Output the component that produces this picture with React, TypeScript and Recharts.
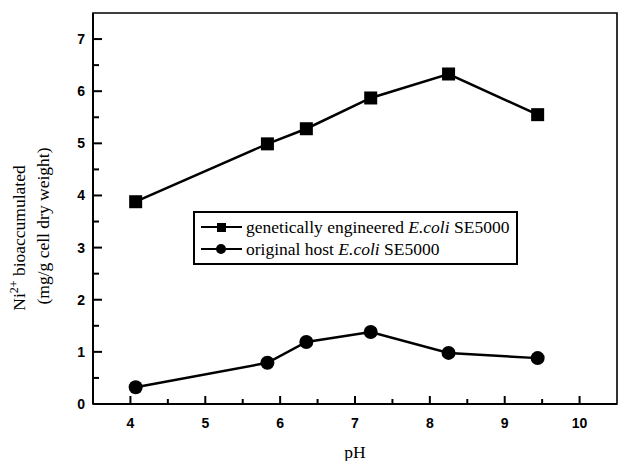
import { LineChart, Line, XAxis, YAxis, ReferenceArea, Legend } from 'recharts'

const phValues = [4.07, 5.83, 6.35, 7.21, 8.25, 9.44]
const engineered = [3.88, 4.99, 5.28, 5.87, 6.33, 5.55]
const original = [0.32, 0.79, 1.19, 1.38, 0.98, 0.88]

const xTicks = [4, 4.5, 5, 5.5, 6, 6.5, 7, 7.5, 8, 8.5, 9, 9.5, 10]
const yTicks = [0, 0.5, 1, 1.5, 2, 2.5, 3, 3.5, 4, 4.5, 5, 5.5, 6, 6.5, 7]

const seriesNames = ['genetically engineered', 'original host']
const strain = 'SE5000'

const data = phValues.map((ph, i) => ({ ph, eng: engineered[i], orig: original[i] }))

const serif = '"Liberation Serif", "Times New Roman", serif'
const sans = '"Liberation Sans", Arial, sans-serif'

const XTick = (props: any) => {
    const { x, y, payload } = props
    const major = Number.isInteger(payload.value)
    return (
        <g>
            <line x1={x} x2={x} y1={y} y2={y - (major ? 8 : 5)} stroke="#000" strokeWidth={2} />
            {major && (
                <text x={x} y={y + 24} textAnchor="middle" fontFamily={sans} fontWeight="bold" fontSize={14} fill="#000">
                    {payload.value}
                </text>
            )}
        </g>
    )
}

const YTick = (props: any) => {
    const { x, y, payload } = props
    const major = Number.isInteger(payload.value)
    return (
        <g>
            <line x1={x} x2={x + (major ? 9 : 6)} y1={y} y2={y} stroke="#000" strokeWidth={2} />
            {major && (
                <text x={x - 8} y={y + 5} textAnchor="end" fontFamily={sans} fontWeight="bold" fontSize={14} fill="#000">
                    {payload.value}
                </text>
            )}
        </g>
    )
}

const Square = (props: any) => {
    const { cx, cy, index } = props
    return <rect key={`s${index}`} x={cx - 6.5} y={cy - 6.5} width={13} height={13} fill="#000" />
}

const Dot = (props: any) => {
    const { cx, cy, index } = props
    return <circle key={`c${index}`} cx={cx} cy={cy} r={7} fill="#000" />
}

const LegendBox = () => (
    <div
        style={{
            border: '2px solid #000',
            background: '#fff',
            padding: '3px 7px 3px 4px',
            fontFamily: serif,
            fontSize: 17.5,
            lineHeight: '22px',
            color: '#000',
            whiteSpace: 'nowrap'
        }}
    >
        {seriesNames.map((name, i) => (
            <div key={name} style={{ display: 'flex', alignItems: 'center' }}>
                <svg width={45} height={14} style={{ marginRight: 2 }}>
                    <line x1={2} x2={43} y1={7} y2={7} stroke="#000" strokeWidth={2} />
                    {i === 0 ? <rect x={18} y={3} width={9} height={9} fill="#000" /> : <circle cx={22} cy={7} r={5} fill="#000" />}
                </svg>
                <span>
                    {name} <i>E.coli</i> {strain}
                </span>
            </div>
        ))}
    </div>
)

export default function App() {
    return (
        <div style={{ position: 'absolute', left: 0, top: 0, width: 618, height: 461, background: '#fff' }}>
            <LineChart width={618} height={461} data={data} margin={{ top: 13, right: 1, bottom: 0, left: 0 }}>
                <XAxis
                    dataKey="ph"
                    type="number"
                    domain={[3.5, 10.5]}
                    ticks={xTicks}
                    interval={0}
                    height={57}
                    tickSize={0}
                    tickMargin={0}
                    tickLine={false}
                    axisLine={{ stroke: '#000', strokeWidth: 2 }}
                    tick={XTick}
                    label={{ value: 'pH', position: 'insideBottom', offset: 3, fontFamily: serif, fontSize: 17.5, fill: '#000' }}
                />
                <YAxis
                    type="number"
                    domain={[0, 7.5]}
                    ticks={yTicks}
                    interval={0}
                    width={93}
                    tickSize={0}
                    tickMargin={0}
                    tickLine={false}
                    axisLine={{ stroke: '#000', strokeWidth: 2 }}
                    tick={YTick}
                    label={{
                        content: () => (
                            <g fontFamily={serif} fontSize={17.5} fill="#000">
                                <text x={25} y={238} textAnchor="middle" transform="rotate(-90 25 238)">
                                    Ni
                                    <tspan fontSize={12} dy={-7}>2+</tspan>
                                    <tspan dy={7}> bioaccumulated</tspan>
                                </text>
                                <text x={49} y={226} textAnchor="middle" transform="rotate(-90 49 226)">
                                    (mg/g cell dry weight)
                                </text>
                            </g>
                        )
                    }}
                />
                <ReferenceArea x1={3.5} x2={10.5} y1={0} y2={7.5} fill="none" stroke="#000" strokeWidth={1.6} />
                <Legend
                    content={LegendBox}
                    layout="horizontal"
                    verticalAlign="middle"
                    align="center"
                    wrapperStyle={{ left: 193, top: 211, width: 'auto' }}
                />
                <Line dataKey="eng" stroke="#000" strokeWidth={2.5} dot={Square} isAnimationActive={false} legendType="none" />
                <Line dataKey="orig" stroke="#000" strokeWidth={2.5} dot={Dot} isAnimationActive={false} legendType="none" />
            </LineChart>
        </div>
    )
}
